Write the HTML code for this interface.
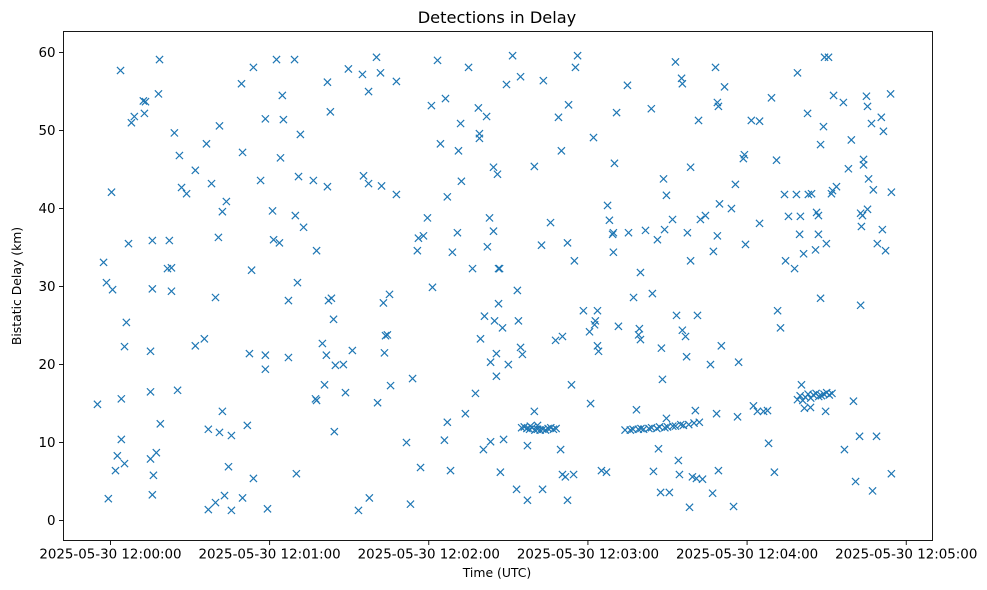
<!DOCTYPE html>
<html><head><meta charset="utf-8"><style>
html,body{margin:0;padding:0;background:#fff;}
svg{display:block;font-family:"DejaVu Sans","Liberation Sans",sans-serif;}
</style></head><body>
<svg id="chart" width="987" height="590" viewBox="0 0 987 590" xmlns="http://www.w3.org/2000/svg">
<rect width="987" height="590" fill="#fff"/>
<text x="497" y="23" text-anchor="middle" font-size="16.2">Detections in Delay</text>
<g id="marks"></g>
<rect x="63.5" y="31.5" width="869" height="509" fill="none" stroke="#000" stroke-width="0.9"/>
<g id="xaxis"></g>
<g id="yaxis"></g>
<text x="497" y="577" text-anchor="middle" font-size="12.4">Time (UTC)</text>
<text transform="translate(21,286) rotate(-90)" text-anchor="middle" font-size="12.4">Bistatic Delay (km)</text>
</svg>
<script>
// seconds after 2025-05-30 12:00:00 UTC
const times = [-4.9,-2.6,-1.5,-0.8,0.4,0.8,1.9,2.6,3.8,4.1,4.1,5.3,5.3,6.0,6.8,7.9,9.0,12.4,12.8,13.2,
15.1,15.8,15.8,15.1,15.1,16.2,15.8,17.3,18.1,18.5,18.8,21.5,22.2,23.0,23.0,24.1,25.3,26.0,26.8,28.7,
32.0,32.0,35.4,36.2,36.9,36.9,38.1,39.6,39.6,40.7,41.1,41.1,42.2,42.2,43.0,43.7,44.5,45.6,45.6,49.4,
49.8,49.8,51.6,52.4,53.2,53.9,53.9,56.6,58.4,58.4,58.4,61.1,61.5,63.7,59.2,62.6,64.1,64.8,65.2,67.1,
67.1,69.4,69.7,70.1,70.5,70.9,71.6,72.8,76.5,77.3,77.7,77.7,79.9,80.7,81.4,81.8,81.8,82.2,82.9,83.3,
84.1,84.4,84.8,87.8,88.6,91.2,89.7,93.5,95.0,95.4,97.3,97.3,97.6,100.3,100.7,101.8,102.2,102.9,103.3,103.7,
104.4,105.2,105.6,107.8,107.8,111.6,113.1,113.9,115.7,116.1,116.9,118.0,119.5,121.4,121.0,124.4,126.3,127.0,123.3,125.9,
127.0,128.2,128.9,130.8,131.2,132.0,132.3,133.8,135.0,136.5,137.6,138.7,139.1,139.1,139.5,140.6,141.0,141.8,142.1,142.9,
143.3,143.3,144.4,144.4,144.8,145.5,145.5,145.9,146.3,146.3,146.7,147.0,147.8,148.2,149.3,150.0,151.6,153.1,153.4,153.8,
154.6,154.6,155.3,157.2,157.2,158.3,159.8,159.8,161.0,162.5,162.9,163.2,165.9,167.8,168.9,169.7,170.0,170.4,170.4,171.5,
172.3,172.3,172.7,173.8,174.6,174.9,175.3,176.1,178.3,180.6,181.0,182.1,182.5,182.8,183.6,183.6,184.0,185.1,187.0,187.4,
188.1,189.3,189.6,189.6,190.8,190.0,191.5,194.9,195.3,197.2,198.3,199.1,199.4,199.8,199.8,201.7,203.9,204.3,204.7,206.2,
206.6,207.4,207.7,208.1,208.5,208.9,209.6,209.6,210.7,211.9,213.0,213.4,214.1,214.5,215.3,215.6,215.6,216.8,217.2,217.5,
218.3,218.7,218.7,219.4,220.5,220.9,221.3,221.7,222.4,223.2,224.3,226.2,227.0,227.3,228.1,228.5,228.8,228.8,229.2,229.2,
229.6,230.3,231.5,234.1,234.9,235.6,236.4,236.8,238.6,239.0,239.4,241.6,242.4,243.9,244.7,244.7,246.2,247.7,248.1,249.2,
250.3,251.1,251.5,252.6,254.1,254.5,255.6,257.9,258.6,259.0,259.8,260.1,260.5,261.3,261.6,262.8,263.1,263.9,264.3,266.2,
266.9,265.8,266.9,267.7,267.7,268.8,269.2,269.6,269.9,270.7,271.8,272.2,272.6,273.7,276.3,276.7,278.2,279.3,280.1,280.9,
282.4,282.8,282.8,283.1,283.5,283.9,283.9,285.0,285.4,285.4,285.8,286.9,287.3,287.6,288.8,289.1,290.6,291.0,291.4,292.2,
294.1,294.4,294.4,
155,156,157,158,159,160,161,162,163,164,165,166,167,168,
194,196,197,199,200,201,203,204,206,207,209,210,212,213,215,216,218,220,222,
259,260,261,262,263,264,265,266,267,268,269,270,271,272];
// bistatic delay in km
const delays = [14.9,33.1,30.5,2.8,42.1,29.6,6.4,8.3,57.7,15.6,10.4,22.3,7.3,25.4,35.5,51.0,51.8,53.8,52.2,53.7,
16.5,29.7,35.9,21.7,7.9,5.8,3.3,8.7,54.7,59.1,12.4,32.3,35.9,32.4,29.4,49.7,16.7,46.8,42.7,41.9,
44.9,22.4,23.3,48.3,11.7,1.4,43.2,28.6,2.3,36.3,50.6,11.3,39.6,14.0,3.2,40.9,6.9,10.9,1.3,56.0,
47.2,2.9,12.2,21.4,32.1,58.1,5.4,43.6,51.5,19.4,21.2,39.7,36.0,35.6,1.5,59.1,46.5,54.5,51.4,20.9,
28.2,59.1,39.1,6.0,30.5,44.1,49.5,37.6,43.6,15.6,15.4,34.6,22.7,17.4,21.2,42.8,56.2,28.2,52.4,28.5,
25.8,11.4,19.9,20.0,16.4,21.8,57.9,1.3,57.2,44.2,43.2,55.0,2.9,59.4,15.1,57.4,42.9,27.9,21.5,23.7,
23.8,29.0,17.3,56.3,41.8,10.0,2.1,18.2,34.6,36.2,6.8,36.5,38.8,29.9,53.2,48.3,54.1,41.5,59.0,10.3,
12.6,6.4,34.4,36.9,47.4,50.9,43.5,13.7,58.1,32.3,16.3,52.9,49.6,49.0,23.3,9.1,26.2,51.8,35.1,38.8,
10.1,20.3,45.3,37.1,25.6,21.4,18.5,44.4,27.8,32.3,32.3,6.2,24.7,10.4,55.9,20.0,59.6,4.0,29.5,25.6,
22.2,56.9,21.3,2.6,9.6,12.1,14.0,45.4,12.2,35.3,4.0,56.4,38.2,23.1,51.7,9.1,47.4,23.6,5.9,5.6,
2.6,35.6,53.3,17.4,5.9,33.3,58.1,59.6,26.9,24.2,15.0,49.1,25.1,25.6,26.9,22.4,21.7,6.4,6.2,40.4,
38.5,36.7,34.4,36.9,52.3,45.8,24.9,55.8,36.9,28.6,14.2,23.8,24.6,23.2,31.8,37.2,52.8,29.1,6.3,36.0,
9.2,3.6,22.1,18.1,43.8,37.3,41.7,13.1,3.6,38.6,58.8,26.3,7.7,5.9,56.7,56.0,24.4,23.6,21.0,36.9,
1.7,45.3,33.3,5.6,14.1,5.4,26.3,51.3,38.6,5.3,39.1,20.0,3.5,34.5,58.1,13.7,53.6,36.5,6.4,53.1,
40.6,22.4,55.6,40.0,1.8,43.1,13.3,20.3,46.4,46.9,35.4,51.3,14.7,14.0,51.2,38.1,14.0,14.1,9.9,54.2,
6.2,46.2,26.9,24.7,41.8,33.3,39.0,32.3,41.8,57.4,36.7,39.0,17.4,34.2,14.4,52.2,41.8,14.5,41.9,39.5,
39.1,34.7,36.7,48.2,28.5,50.5,59.4,14.0,35.5,59.4,41.9,42.3,54.5,42.8,53.6,9.1,45.1,48.8,15.3,5.0,
10.8,27.6,39.4,37.7,39.1,45.6,46.3,54.4,53.1,39.9,43.8,50.9,3.8,42.4,10.8,35.5,51.7,37.3,49.9,34.6,
54.7,42.1,6.0,
11.9,12.0,11.8,11.7,11.9,11.6,11.7,11.6,11.7,11.6,11.8,11.9,11.7,11.8,
11.6,11.6,11.7,11.7,11.8,11.7,11.8,11.9,11.8,12.0,11.9,12.0,12.1,12.1,12.3,12.2,12.3,12.5,12.6,
15.5,16.0,15.4,15.8,16.2,15.7,16.1,16.3,15.9,16.0,16.2,16.4,16.1,16.3];
const xTickValues = [0,60,120,180,240,300];
const xTickLabels = ["2025-05-30 12:00:00","2025-05-30 12:01:00","2025-05-30 12:02:00","2025-05-30 12:03:00","2025-05-30 12:04:00","2025-05-30 12:05:00"];
const yTickValues = [0,10,20,30,40,50,60];

const NS = "http://www.w3.org/2000/svg";
const L=63.5,R=932.5,T=31.5,B=540.5;
const xMin=-17.7,xMax=309.9,yMin=-2.56,yMax=62.7;
function xScale(v){return L+(v-xMin)/(xMax-xMin)*(R-L);}
function yScale(v){return B-(v-yMin)/(yMax-yMin)*(B-T);}
function mk(tag,attrs,parent){const e=document.createElementNS(NS,tag);for(const k in attrs)e.setAttribute(k,attrs[k]);parent.appendChild(e);return e;}

const marks=document.getElementById('marks');
for(let i=0;i<times.length;i++){
  const cx=xScale(times[i]),cy=yScale(delays[i]),r=3.6;
  const p=mk('path',{d:`M${cx-r},${cy-r}L${cx+r},${cy+r}M${cx-r},${cy+r}L${cx+r},${cy-r}`,stroke:'#1f77b4','stroke-width':1.2,fill:'none'},marks);
  
  
}
const xa=document.getElementById('xaxis');
xTickValues.forEach((v,i)=>{
  const x=xScale(v);
  const t=mk('line',{x1:x,x2:x,y1:B,y2:B+4.5,stroke:'#000','stroke-width':0.9},xa);
  
  
  const lb=mk('text',{x:x,y:B+18,'text-anchor':'middle','font-size':'13.4'},xa);
  lb.textContent=xTickLabels[i];
  
  
});
const ya=document.getElementById('yaxis');
yTickValues.forEach(v=>{
  const y=yScale(v);
  const t=mk('line',{x1:L-4.5,x2:L,y1:y,y2:y,stroke:'#000','stroke-width':0.9},ya);
  
  
  const lb=mk('text',{x:L-8,y:y+4.5,'text-anchor':'end','font-size':'13.4'},ya);
  lb.textContent=String(v);
  
  
});
</script>
</body></html>
